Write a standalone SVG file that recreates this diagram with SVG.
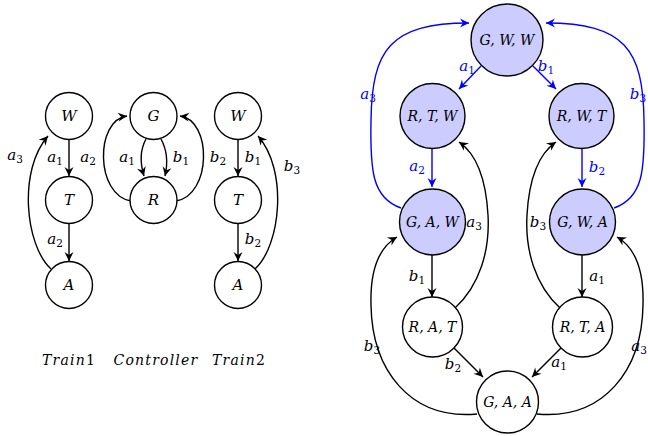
<svg xmlns="http://www.w3.org/2000/svg" width="648" height="436" viewBox="0 0 648 436">
<style>
.n{fill:#fff;stroke:#000;stroke-width:1.4}
.nb{fill:#ccccff;stroke:#000;stroke-width:1.4}
.t{font-family:"DejaVu Serif",serif;font-style:italic;font-size:15px;text-anchor:middle}
.ts{font-family:"DejaVu Serif",serif;font-style:italic;font-size:14px;text-anchor:middle}
.l{font-family:"DejaVu Serif",serif;font-style:italic;font-size:15px;text-anchor:middle}
.lb{fill:#0000ff}
.s{font-style:normal;font-size:10.5px}
.e{fill:none;stroke:#000;stroke-width:1.4;marker-end:url(#ak)}
.eb{fill:none;stroke:#0000ff;stroke-width:1.4;marker-end:url(#ab)}
.cap{font-family:"DejaVu Serif",serif;font-style:italic;font-size:14px;letter-spacing:1.2px;text-anchor:middle}
</style>
<defs>
<marker id="ak" viewBox="-10 -6 12 12" refX="0" refY="0" markerWidth="12" markerHeight="12" orient="auto" markerUnits="userSpaceOnUse"><path d="M-9,-4.5 L0,0 L-9,4.5 L-6,0 z" fill="#000"/></marker>
<marker id="ab" viewBox="-10 -6 12 12" refX="0" refY="0" markerWidth="12" markerHeight="12" orient="auto" markerUnits="userSpaceOnUse"><path d="M-9,-4.5 L0,0 L-9,4.5 L-6,0 z" fill="#0000ff"/></marker>
</defs>
<g id="connectors">
<path class="e" d="M69,140 L69,176"/>
<path class="e" d="M69,224 L69,261"/>
<path class="e" d="M51,269 C 25,245 18,170 48,136"/>
<path class="e" d="M146,139 C 140,150 140,163 144,176"/>
<path class="e" d="M161,139 C 167,150 168,163 165,176"/>
<path class="e" d="M131,201 C 95,195 95,120 127,116"/>
<path class="e" d="M176,201 C 212,195 212,120 180,116"/>
<path class="e" d="M238,140 L238,176"/>
<path class="e" d="M238,224 L238,261"/>
<path class="e" d="M255,269 C 281,245 288,170 258,136"/>
<path class="eb" d="M481,66 L459,89"/>
<path class="eb" d="M533,66 L556,89"/>
<path class="eb" d="M432,149 L432,187"/>
<path class="eb" d="M582,149 L582,187"/>
<path class="eb" d="M401,208 C 372,198 370,170 371,120 C 372,50 390,23 469,23"/>
<path class="eb" d="M614,208 C 643,198 645,170 644,120 C 643,50 625,23 546,23"/>
<path class="e" d="M455,308 C 480,285 490,250 488,215 C 486,180 478,155 459,142"/>
<path class="e" d="M560,308 C 535,285 525,250 527,215 C 529,180 537,155 556,142"/>
<path class="e" d="M432,255 L432,297"/>
<path class="e" d="M582,255 L582,297"/>
<path class="e" d="M454,348 L483,377"/>
<path class="e" d="M561,348 L532,377"/>
<path class="e" d="M477,414 C 410,420 372,370 371,305 C 370,270 378,248 397,237"/>
<path class="e" d="M537,414 C 604,420 642,370 643,305 C 644,270 636,248 617,237"/>
</g>
<g id="edge-labels">
<text class="l" x="15" y="160">a<tspan class="s" dy="3">3</tspan></text>
<text class="l" x="55" y="162">a<tspan class="s" dy="3">1</tspan></text>
<text class="l" x="88" y="162">a<tspan class="s" dy="3">2</tspan></text>
<text class="l" x="55" y="244">a<tspan class="s" dy="3">2</tspan></text>
<text class="l" x="127" y="162">a<tspan class="s" dy="3">1</tspan></text>
<text class="l" x="181" y="162">b<tspan class="s" dy="3">1</tspan></text>
<text class="l" x="218" y="162">b<tspan class="s" dy="3">2</tspan></text>
<text class="l" x="253" y="162">b<tspan class="s" dy="3">1</tspan></text>
<text class="l" x="253" y="244">b<tspan class="s" dy="3">2</tspan></text>
<text class="l" x="292" y="171">b<tspan class="s" dy="3">3</tspan></text>
<text class="l lb" x="467" y="71">a<tspan class="s" dy="3">1</tspan></text>
<text class="l lb" x="546" y="71">b<tspan class="s" dy="3">1</tspan></text>
<text class="l lb" x="368" y="99">a<tspan class="s" dy="3">3</tspan></text>
<text class="l lb" x="638" y="99">b<tspan class="s" dy="3">3</tspan></text>
<text class="l lb" x="417" y="171">a<tspan class="s" dy="3">2</tspan></text>
<text class="l lb" x="597" y="172">b<tspan class="s" dy="3">2</tspan></text>
<text class="l" x="474" y="227">a<tspan class="s" dy="3">3</tspan></text>
<text class="l" x="538" y="227">b<tspan class="s" dy="3">3</tspan></text>
<text class="l" x="417" y="281">b<tspan class="s" dy="3">1</tspan></text>
<text class="l" x="597" y="281">a<tspan class="s" dy="3">1</tspan></text>
<text class="l" x="453" y="369">b<tspan class="s" dy="3">2</tspan></text>
<text class="l" x="559" y="367">a<tspan class="s" dy="3">1</tspan></text>
<text class="l" x="372" y="351">b<tspan class="s" dy="3">3</tspan></text>
<text class="l" x="639" y="351">a<tspan class="s" dy="3">3</tspan></text>
</g>
<g id="t1W"><circle class="n" cx="69" cy="116" r="23.5"/><text class="t" x="69" y="121">W</text></g>
<g id="t1T"><circle class="n" cx="69" cy="200" r="23.5"/><text class="t" x="69" y="205">T</text></g>
<g id="t1A"><circle class="n" cx="69" cy="285" r="23.5"/><text class="t" x="69" y="290">A</text></g>
<g id="cG"><circle class="n" cx="153.5" cy="116" r="23.5"/><text class="t" x="153.5" y="121">G</text></g>
<g id="cR"><circle class="n" cx="153.5" cy="200" r="23.5"/><text class="t" x="153.5" y="205">R</text></g>
<g id="t2W"><circle class="n" cx="238" cy="116" r="23.5"/><text class="t" x="238" y="121">W</text></g>
<g id="t2T"><circle class="n" cx="238" cy="200" r="23.5"/><text class="t" x="238" y="205">T</text></g>
<g id="t2A"><circle class="n" cx="238" cy="285" r="23.5"/><text class="t" x="238" y="290">A</text></g>
<g id="captions">
<text class="cap" x="69" y="365">Train<tspan font-style="normal">1</tspan></text>
<text class="cap" x="156" y="365">Controller</text>
<text class="cap" x="239" y="365">Train<tspan font-style="normal">2</tspan></text>
</g>
<g id="GWW"><circle class="nb" cx="507" cy="40" r="36"/><text class="ts" x="507" y="45">G, W, W</text></g>
<g id="RTW"><circle class="nb" cx="432.5" cy="116" r="32.5"/><text class="ts" x="432.5" y="121" font-size="13.5">R, T, W</text></g>
<g id="RWT"><circle class="nb" cx="581.5" cy="116" r="32.5"/><text class="ts" x="581.5" y="121" font-size="13.5">R, W, T</text></g>
<g id="GAW"><circle class="nb" cx="432.5" cy="222" r="33"/><text class="ts" x="432.5" y="227" font-size="13.5">G, A, W</text></g>
<g id="GWA"><circle class="nb" cx="582.5" cy="222" r="33"/><text class="ts" x="582.5" y="227" font-size="13.5">G, W, A</text></g>
<g id="RAT"><circle class="n" cx="432.5" cy="327" r="30"/><text class="ts" x="432.5" y="332" font-size="12.5">R, A, T</text></g>
<g id="RTA"><circle class="n" cx="582.5" cy="327" r="30"/><text class="ts" x="582.5" y="332" font-size="12.5">R, T, A</text></g>
<g id="GAA"><circle class="n" cx="507.5" cy="402" r="31"/><text class="ts" x="507.5" y="407" font-size="12.5">G, A, A</text></g>
</svg>
